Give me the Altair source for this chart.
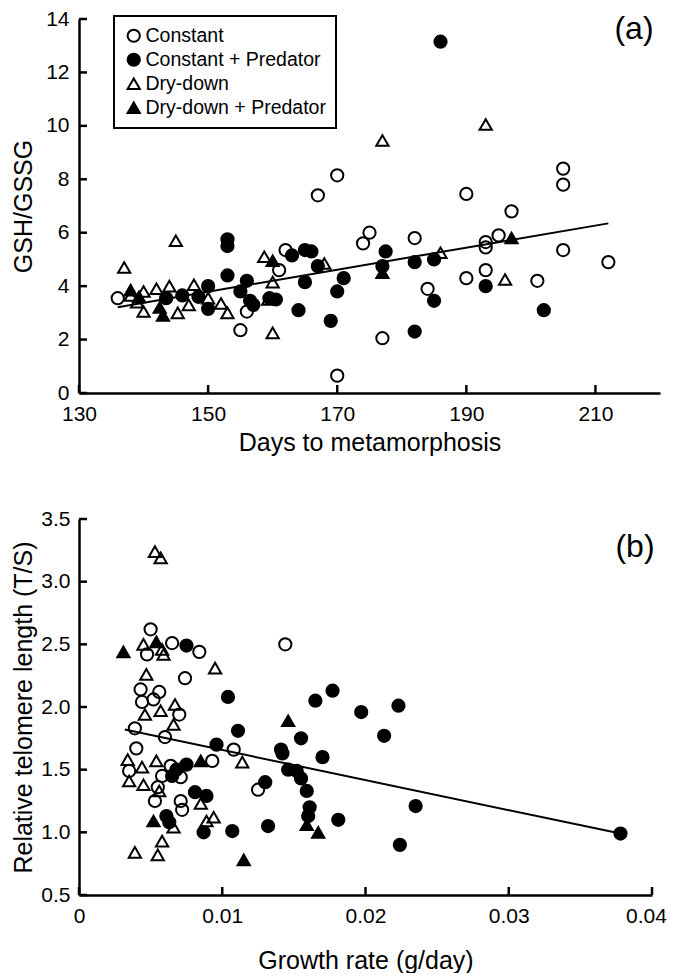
import altair as alt
import pandas as pd

FONT = "Liberation Sans"

groups = ["Constant", "Constant + Predator", "Dry-down", "Dry-down + Predator"]
shapes = ["circle", "circle", "triangle-up", "triangle-up"]
fills = ["transparent", "black", "transparent", "black"]
strokes = ["black", "black", "black", "black"]
sizes = [150, 150, 215, 215]

# ---------------- Panel (a): GSH/GSSG vs days to metamorphosis ----------------
a_const_x = [136, 155, 156, 161, 162, 167, 170, 170, 174, 175, 177, 182, 184, 190, 190,
             193, 193, 193, 195, 197, 201, 205, 205, 205, 212]
a_const_y = [3.55, 2.35, 3.05, 4.6, 5.35, 7.4, 8.15, 0.65, 5.6, 6.0, 2.05, 5.8, 3.9, 7.45, 4.3,
             5.65, 5.45, 4.6, 5.9, 6.8, 4.2, 8.4, 7.8, 5.35, 4.9]

a_cpred_x = [186, 153, 153, 153, 150, 150, 146, 148.5, 143.5, 156, 155, 156.5, 157, 159.5, 160.5,
             163, 165, 166, 167, 165, 164, 169, 170, 171, 177.5, 177, 182, 185, 185, 182,
             193, 202]
a_cpred_y = [13.15, 5.75, 5.5, 4.4, 4.0, 3.15, 3.65, 3.6, 3.55, 4.2, 3.8, 3.45, 3.3, 3.55, 3.5,
             5.15, 5.35, 5.3, 4.75, 4.15, 3.1, 2.7, 3.8, 4.3, 5.3, 4.75, 4.9, 5.0, 3.45, 2.3,
             4.0, 3.1]

a_dry_x = [137, 145, 138, 140, 140, 142, 144, 145.3, 147.8, 147, 150, 152, 153, 158.7, 160,
           159.3, 160, 168, 177, 193, 186, 196, 139]
a_dry_y = [4.7, 5.7, 3.65, 3.8, 3.05, 3.9, 4.0, 3.0, 4.05, 3.3, 3.55, 3.35, 3.0, 5.1, 4.15,
           3.5, 2.25, 4.85, 9.45, 10.05, 5.25, 4.25, 3.4]

a_dpred_x = [138, 139.3, 143, 142.5, 160, 177, 197]
a_dpred_y = [3.85, 3.6, 2.9, 3.2, 4.95, 4.5, 5.8]

a_fit_x = [136, 212]
a_fit_y = [3.21, 6.35]

a_xticks = [130, 150, 170, 190, 210]
a_yticks = [0, 2, 4, 6, 8, 10, 12, 14]

# ---------------- Panel (b): telomere length vs growth rate ----------------
b_const_x = [0.0050, 0.00475, 0.0065, 0.0084, 0.0074, 0.0043, 0.0056, 0.0052, 0.0044, 0.0070,
             0.0039, 0.0060, 0.0108, 0.0040, 0.0035, 0.0064, 0.0058, 0.0055, 0.0053, 0.0071,
             0.0072, 0.0071, 0.0093, 0.0144, 0.0125]
b_const_y = [2.62, 2.42, 2.51, 2.44, 2.23, 2.14, 2.12, 2.06, 2.04, 1.94,
             1.83, 1.76, 1.66, 1.67, 1.49, 1.53, 1.45, 1.36, 1.25, 1.25,
             1.18, 1.44, 1.57, 2.50, 1.34]

b_cpred_x = [0.0075, 0.0104, 0.0111, 0.0096, 0.0075, 0.0068, 0.0065, 0.0081, 0.0089, 0.0087,
             0.0107, 0.0061, 0.0063, 0.0177, 0.0165, 0.0197, 0.0223, 0.0213, 0.0155, 0.0141,
             0.0142, 0.0170, 0.0146, 0.0152, 0.0155, 0.0159, 0.0161, 0.0160, 0.0181, 0.0132,
             0.0235, 0.0224, 0.0378, 0.0130]
b_cpred_y = [2.49, 2.08, 1.81, 1.70, 1.54, 1.50, 1.45, 1.32, 1.29, 1.00,
             1.01, 1.13, 1.08, 2.13, 2.05, 1.96, 2.01, 1.77, 1.75, 1.66,
             1.63, 1.60, 1.50, 1.49, 1.43, 1.33, 1.20, 1.13, 1.10, 1.05,
             1.21, 0.90, 0.99, 1.40]

b_dry_x = [0.0053, 0.0057, 0.0045, 0.0058, 0.0059, 0.0047, 0.0095, 0.0046, 0.0057, 0.0067,
           0.0066, 0.0034, 0.0044, 0.0035, 0.0045, 0.0054, 0.0056, 0.0085, 0.0094, 0.0089,
           0.0066, 0.0039, 0.0058, 0.0055, 0.0114]
b_dry_y = [3.24, 3.19, 2.50, 2.46, 2.42, 2.26, 2.31, 1.94, 1.97, 2.02,
           1.86, 1.58, 1.52, 1.41, 1.38, 1.57, 1.33, 1.23, 1.12, 1.09,
           1.04, 0.84, 0.93, 0.82, 1.56]

b_dpred_x = [0.0031, 0.0054, 0.0052, 0.0115, 0.0159, 0.0167, 0.0146, 0.0085]
b_dpred_y = [2.44, 2.52, 1.09, 0.78, 1.06, 1.00, 1.89, 1.57]

b_fit_x = [0.0032, 0.0378]
b_fit_y = [1.82, 0.99]

b_xticks = [0, 0.01, 0.02, 0.03, 0.04]
b_yticks = [0.5, 1.0, 1.5, 2.0, 2.5, 3.0, 3.5]

panel_labels = ["(a)", "(b)"]


def make_df(xs_list, ys_list):
    frames = []
    for g, xs, ys in zip(groups, xs_list, ys_list):
        frames.append(pd.DataFrame({"x": xs, "y": ys, "group": g}))
    return pd.concat(frames, ignore_index=True)


def axis(values, title, label_padding, title_padding, fmt=None, expr=None, last_shift=None):
    kw = dict(values=values, title=title, ticks=False, tickSize=0, grid=False,
              domainColor="black", domainWidth=2.5, labelFont=FONT, labelFontSize=21,
              labelColor="black", labelPadding=label_padding, titleFont=FONT,
              titleFontSize=25, titleFontWeight="normal", titleColor="black",
              titlePadding=title_padding, labelFlush=False, labelOverlap=False)
    if fmt:
        kw["format"] = fmt
    if expr:
        kw["labelExpr"] = expr
    if last_shift is not None:
        kw["labelOffset"] = alt.expr(f"datum.value > {last_shift[0]} ? {last_shift[1]} : 0")
    return alt.Axis(**kw)


def panel(df, fit_x, fit_y, xticks, yticks, xdom, ydom, xax, yax, w, h, label, lx, ly, legend):
    xsc = alt.Scale(domain=xdom, nice=False, zero=False)
    ysc = alt.Scale(domain=ydom, nice=False, zero=False)
    pts = alt.Chart(df).mark_point(filled=True, strokeWidth=2, opacity=1).encode(
        x=alt.X("x:Q", scale=xsc, axis=xax),
        y=alt.Y("y:Q", scale=ysc, axis=yax),
        shape=alt.Shape("group:N", scale=alt.Scale(domain=groups, range=shapes), legend=legend),
        fill=alt.Fill("group:N", scale=alt.Scale(domain=groups, range=fills), legend=legend),
        stroke=alt.Stroke("group:N", scale=alt.Scale(domain=groups, range=strokes), legend=legend),
        size=alt.Size("group:N", scale=alt.Scale(domain=groups, range=sizes), legend=legend),
    )
    fit = alt.Chart(pd.DataFrame({"x": fit_x, "y": fit_y})).mark_line(
        color="black", strokeWidth=2).encode(
        x=alt.X("x:Q", scale=xsc, axis=xax),
        y=alt.Y("y:Q", scale=ysc, axis=yax),
    )
    xt = alt.Chart(pd.DataFrame({"x": xticks})).mark_rule(color="black", strokeWidth=2.5).encode(
        x=alt.X("x:Q", scale=xsc, axis=xax),
        y=alt.value(h), y2=alt.value(h - 8),
    )
    yt = alt.Chart(pd.DataFrame({"y": yticks})).mark_rule(color="black", strokeWidth=2.5).encode(
        y=alt.Y("y:Q", scale=ysc, axis=yax),
        x=alt.value(0), x2=alt.value(8),
    )
    lab = alt.Chart(pd.DataFrame({"t": [label]})).mark_text(
        font=FONT, fontSize=32, align="center", baseline="middle", color="black").encode(
        text="t:N", x=alt.value(lx), y=alt.value(ly),
    )
    return alt.layer(pts, fit, xt, yt, lab).properties(width=w, height=h)


df_a = make_df([a_const_x, a_cpred_x, a_dry_x, a_dpred_x], [a_const_y, a_cpred_y, a_dry_y, a_dpred_y])
df_b = make_df([b_const_x, b_cpred_x, b_dry_x, b_dpred_x], [b_const_y, b_cpred_y, b_dry_y, b_dpred_y])

legend_a = alt.Legend(title=None, orient="none", legendX=35, legendY=-3, strokeColor="black",
                      padding=10, labelFont=FONT, labelFontSize=19.5, labelColor="black",
                      labelLimit=400, symbolStrokeWidth=2, symbolStrokeColor="black",
                      labelOffset=2, rowPadding=3)

top = panel(df_a, a_fit_x, a_fit_y, a_xticks, a_yticks, [130, 220], [0, 14],
            axis(a_xticks, "Days to metamorphosis", 10, 6, fmt="d"),
            axis(a_yticks, "GSH/GSSG", 10, 9, fmt="d"),
            581, 374, panel_labels[0], 555, 10, legend_a)

bottom = panel(df_b, b_fit_x, b_fit_y, b_xticks, b_yticks, [0, 0.04], [0.5, 3.5],
               axis(b_xticks, "Growth rate (g/day)", 10, 22,
                    expr="datum.value == 0 ? '0' : format(datum.value, '.2f')",
                    last_shift=(0.035, -6)),
               axis(b_yticks, "Relative telomere length (T/S)", 9, 4, fmt=".1f"),
               573, 376, panel_labels[1], 556, 28, None)

chart = alt.vconcat(top, bottom, spacing=53).resolve_scale(
    shape="independent", fill="independent", stroke="independent", size="independent"
).resolve_legend(
    shape="independent", fill="independent", stroke="independent", size="independent"
).properties(
    padding={"left": 3, "top": 0, "right": 0, "bottom": 0}
).configure_view(stroke=None).configure_legend(strokeWidth=2)

chart.save("out.html", embed_options={"renderer": "svg", "actions": False})
